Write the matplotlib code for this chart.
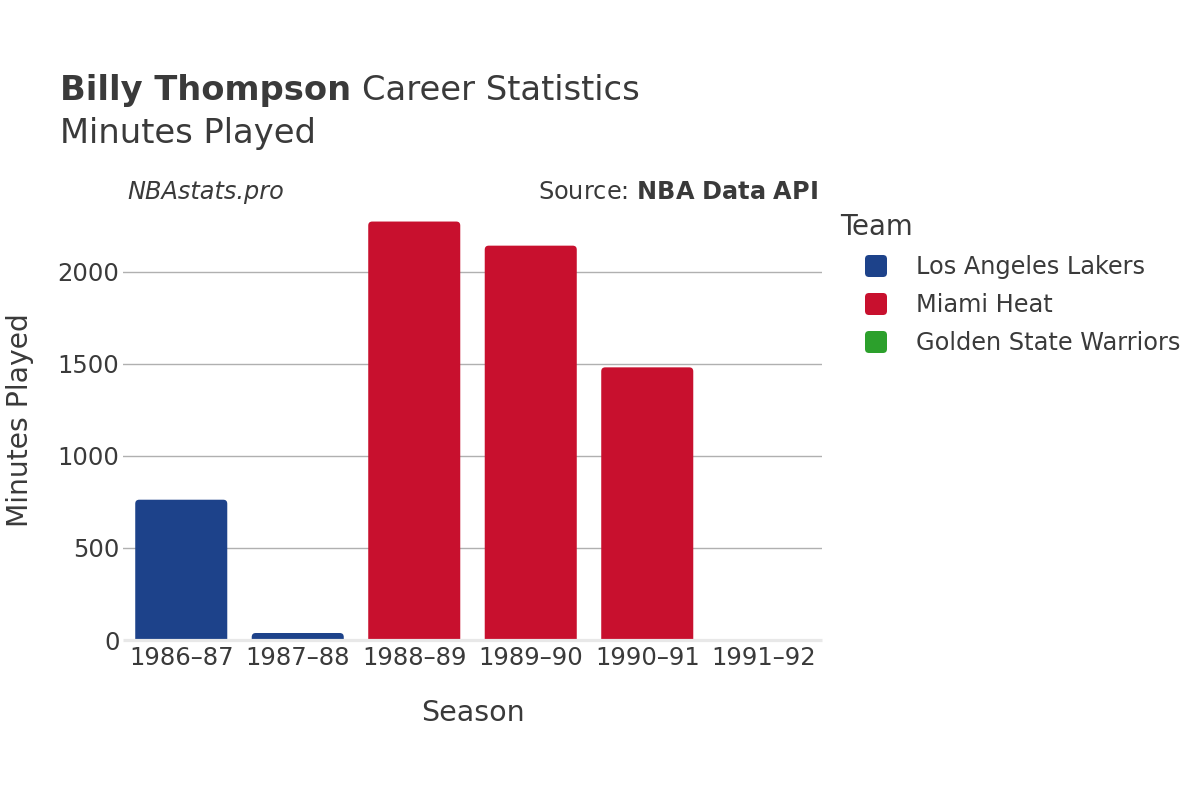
import matplotlib
matplotlib.use("Agg")
import matplotlib.pyplot as plt
from matplotlib.patches import FancyBboxPatch

seasons = ["1986–87", "1987–88", "1988–89", "1989–90", "1990–91", "1991–92"]
minutes = [762, 38, 2273, 2142, 1481, 2]
teams = ["Los Angeles Lakers", "Los Angeles Lakers", "Miami Heat", "Miami Heat", "Miami Heat", "Golden State Warriors"]
legend_teams = ["Los Angeles Lakers", "Miami Heat", "Golden State Warriors"]
team_colors = {"Los Angeles Lakers": "#1d428a", "Miami Heat": "#c8102e", "Golden State Warriors": "#2ca02c"}

W, H = 1200, 800
fig = plt.figure(figsize=(12, 8), dpi=100)
plt.rcParams['font.family'] = ['DejaVu Sans']
TXT = "#3a3a3a"

# axes in pixel positions
ax_l, ax_r, ax_t, ax_b = 123, 822, 200, 640
ax = fig.add_axes([ax_l / W, 1 - ax_b / H, (ax_r - ax_l) / W, (ax_b - ax_t) / H])
ymax = 2390
ax.set_xlim(-0.5, len(seasons) - 0.5)
ax.set_ylim(0, ymax)

for s in ax.spines.values():
    s.set_visible(False)
ax.set_yticks([0, 500, 1000, 1500, 2000])
ax.set_xticks(range(len(seasons)))
ax.set_xticklabels(seasons)
ax.tick_params(axis='both', length=0, labelsize=17.5, labelcolor=TXT)
ax.tick_params(axis='x', pad=4)
ax.tick_params(axis='y', pad=2.5)
for v in [500, 1000, 1500, 2000]:
    ax.axhline(v, color="#b0b0b0", lw=1.0, zorder=0)
ax.plot([-0.5, len(seasons) - 0.5], [0, 0], color="#e8e8e8", lw=2.3, zorder=3,
        clip_on=False, solid_capstyle='butt')

# rounded bars
px_x = (ax_r - ax_l) / len(seasons)          # px per x unit
px_y = (ax_b - ax_t) / ymax                  # px per y unit
aspect = (1 / px_y) / (1 / px_x)
bw = 0.79
r = 4 / px_x
for i, (v, t) in enumerate(zip(minutes, teams)):
    bottom = -60
    p = FancyBboxPatch((i - bw / 2, bottom), bw, v - bottom,
                       boxstyle=f"round,pad=0,rounding_size={r}",
                       mutation_aspect=aspect, facecolor=team_colors[t],
                       edgecolor="none", zorder=2, clip_on=True)
    ax.add_patch(p)

ax.set_xlabel("Season", fontsize=20.5, color=TXT, labelpad=21)
ax.set_ylabel("Minutes Played", fontsize=20.3, color=TXT, labelpad=17)

# titles
t1 = fig.text(60 / W, 1 - 100 / H, "Billy Thompson", fontsize=24.3, fontweight='bold', color=TXT, va='baseline')
fig.canvas.draw()
bb = t1.get_window_extent()
fig.text((bb.x1 + 11) / W, 1 - 100 / H, "Career Statistics", fontsize=24.3, color=TXT, va='baseline')
fig.text(60 / W, 1 - 143 / H, "Minutes Played", fontsize=24.3, color=TXT, va='baseline')
fig.text(127 / W, 1 - 192 / H, "NBAstats.pro", fontsize=17.3, style='italic', color=TXT, va='center')
fig.text(818 / W, 1 - 192 / H, "Source: $\\bf{NBA\\ Data\\ API}$", fontsize=17.3, color=TXT, va='center', ha='right')

# legend
fig.text(840 / W, 1 - 227 / H, "Team", fontsize=19.9, color=TXT, va='center')
for k, t in enumerate(legend_teams):
    yc = 266 + 38 * k
    sq = 22
    p = FancyBboxPatch((876 - sq / 2, H - yc - sq / 2), sq, sq,
                       boxstyle="round,pad=0,rounding_size=4",
                       facecolor=team_colors[t], edgecolor="none",
                       transform=None, figure=fig)
    fig.patches.append(p)
    fig.text(916 / W, 1 - (yc + 1) / H, t, fontsize=17.3, color=TXT, va='center')

fig.savefig("out.png", dpi=100, facecolor="white")
